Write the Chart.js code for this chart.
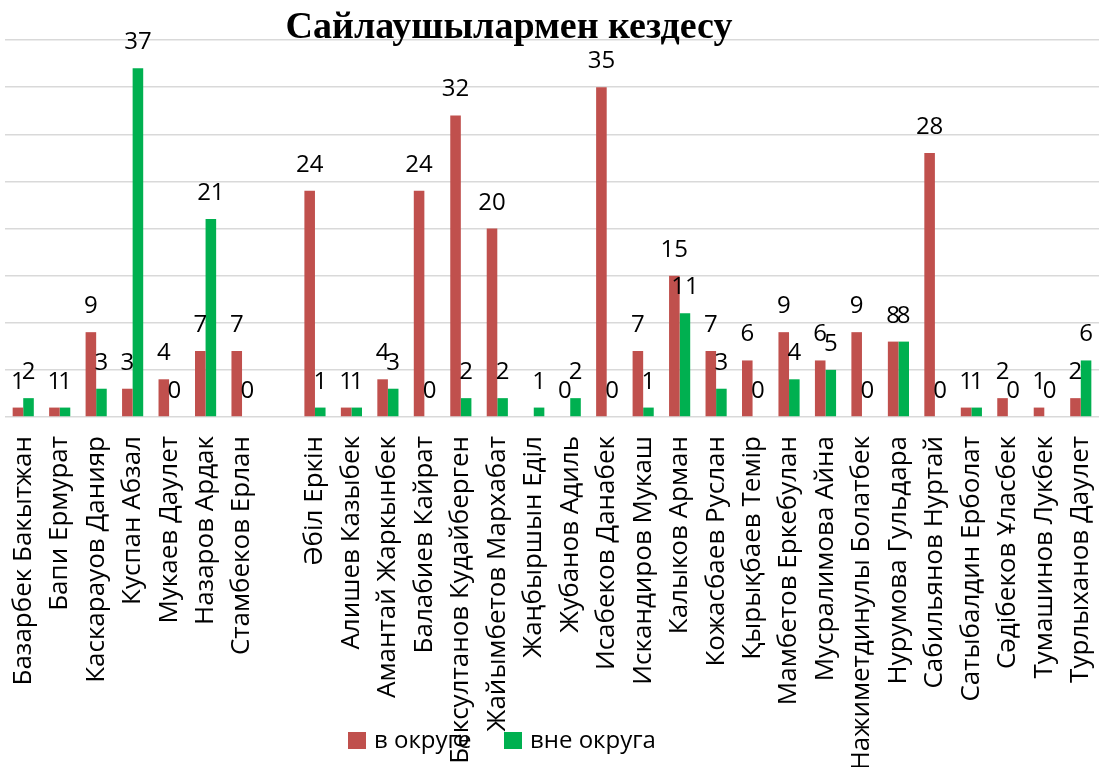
<!DOCTYPE html>
<html><head><meta charset="utf-8">
<script src="https://cdn.jsdelivr.net/npm/chart.js@4.4.1/dist/chart.umd.min.js"></script>
<style>html,body{margin:0;padding:0;background:#fff;overflow:hidden;}</style>
</head><body>
<canvas id="c" width="1099" height="767"></canvas>
<script>
const chartTitle = 'Сайлаушылармен кездесу';
const seriesNames = ['в округе', 'вне округа'];
const categories = [
  'Базарбек Бакытжан','Бапи Ермурат','Каскарауов Данияр','Куспан Абзал','Мукаев Даулет','Назаров Ардак','Стамбеков Ерлан',
  '',
  'Әбіл Еркін','Алишев Казыбек','Амантай Жаркынбек','Балабиев Кайрат','Бексултанов Кудайберген','Жайымбетов Мархабат',
  'Жаңбыршын Еділ','Жубанов Адиль','Исабеков Данабек','Искандиров Мукаш','Калыков Арман','Кожасбаев Руслан',
  'Қырықбаев Темір','Мамбетов Еркебулан','Мусралимова Айна','Нажиметдинулы Болатбек','Нурумова Гульдара',
  'Сабильянов Нуртай','Сатыбалдин Ерболат','Сәдібеков Ұласбек','Тумашинов Лукбек','Турлыханов Даулет'
];
const inDistrict = [1,1,9,3,4,7,7, null, 24,1,4,24,32,20, null,0,35,7,15,7, 6,9,6,9,8, 28,1,2,1,2];
const outDistrict = [2,1,3,37,0,21,0, null, 1,1,3,0,2,2, 1,2,0,1,11,3, 0,4,5,0,8, 0,1,0,0,6];
const yMin = 0, yMax = 40, yStep = 5;
const colors = ['#C0504D', '#00B050'];

const FONT = '"Open Sans", "Noto Sans", sans-serif';

const drawPlugin = {
  id: 'drawExtras',
  afterDatasetsDraw(chart) {
    const ctx = chart.ctx;
    ctx.save();
    ctx.font = '24px ' + FONT;
    ctx.fillStyle = '#000';
    ctx.textAlign = 'center';
    ctx.textBaseline = 'alphabetic';
    chart.data.datasets.forEach((ds, i) => {
      const meta = chart.getDatasetMeta(i);
      meta.data.forEach((bar, j) => {
        const v = ds.data[j];
        if (v === null || v === undefined) return;
        ctx.fillText(String(v), bar.x, bar.y - 19);
      });
    });
    ctx.restore();
  },
  afterDraw(chart) {
    const ctx = chart.ctx;
    ctx.save();
    // title
    ctx.font = 'bold 38px "Liberation Serif", "DejaVu Serif", serif';
    ctx.fillStyle = '#000';
    ctx.textAlign = 'center';
    ctx.textBaseline = 'alphabetic';
    ctx.fillText(chartTitle, 509, 38);
    // legend
    ctx.font = '24px ' + FONT;
    ctx.textAlign = 'left';
    ctx.textBaseline = 'middle';
    const items = [{x: 348}, {x: 504}];
    items.forEach((it, i) => {
      ctx.fillStyle = colors[i];
      ctx.fillRect(it.x, 732, 18, 17);
      ctx.fillStyle = '#000';
      ctx.fillText(seriesNames[i], it.x + 26, 741);
    });
    ctx.restore();
  }
};

new Chart(document.getElementById('c'), {
  type: 'bar',
  data: {
    labels: categories,
    datasets: [
      { label: seriesNames[0], data: inDistrict, backgroundColor: colors[0], categoryPercentage: 0.58, barPercentage: 1.0 },
      { label: seriesNames[1], data: outDistrict, backgroundColor: colors[1], categoryPercentage: 0.58, barPercentage: 1.0 }
    ]
  },
  options: {
    responsive: false,
    animation: false,
    layout: { padding: { left: 5, right: 0, top: 40, bottom: 0 } },
    plugins: { legend: { display: false }, title: { display: false }, tooltip: { enabled: false } },
    scales: {
      x: {
        grid: { display: false, drawTicks: false },
        border: { display: false },
        ticks: {
          autoSkip: false, minRotation: 90, maxRotation: 90, padding: 19,
          color: '#000', font: { family: FONT, size: 26 }
        },
        afterFit(scale) { scale.height = 350; scale.paddingLeft = 0; scale.paddingRight = 0; }
      },
      y: {
        min: yMin, max: yMax,
        ticks: { display: false, stepSize: yStep },
        grid: { color: '#D9D9D9', lineWidth: 1.5, drawTicks: false },
        border: { display: false },
        afterFit(scale) { scale.width = 0; scale.paddingTop = 0; scale.paddingBottom = 0; }
      }
    }
  },
  plugins: [drawPlugin]
});
</script>
</body></html>
